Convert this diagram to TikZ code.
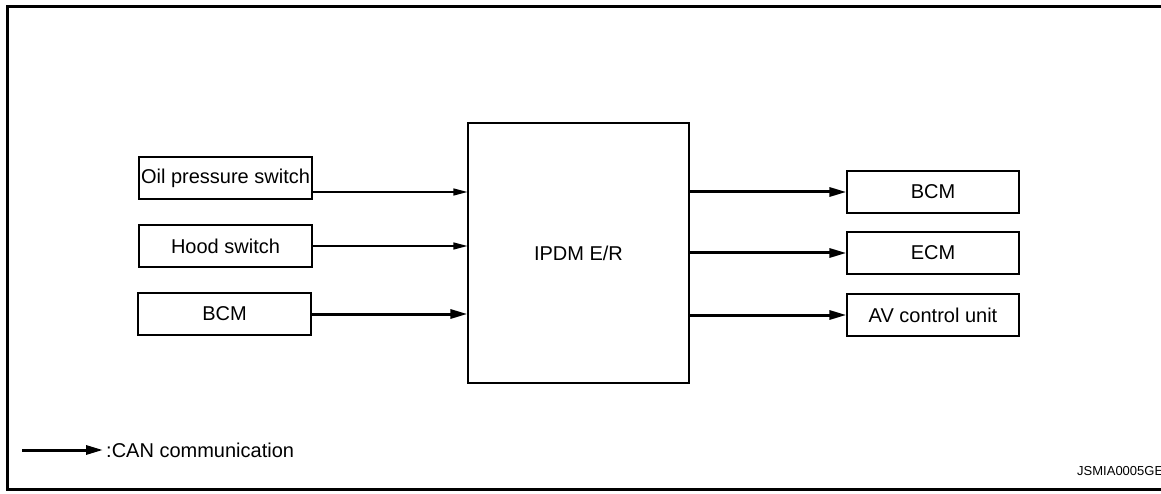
\documentclass[tikz,border=0pt]{standalone}
\usepackage{fontspec}
\setmainfont{Liberation Sans}
\usetikzlibrary{arrows.meta}
\tikzset{
  unitbox/.style={draw,line width=1.2pt,inner sep=0pt,minimum width=173,minimum height=42},
  sigline/.style={line width=1.2pt,-{Triangle[length=14pt,width=7pt]}},
  canline/.style={line width=3pt,-{Triangle[length=17pt,width=9pt]}}
}
\begin{document}
\begin{tikzpicture}[x=1pt,y=-1pt,font=\fontsize{20}{23}\selectfont]
        \useasboundingbox (0,0) rectangle (1161,494);
        \clip (0,0) rectangle (1161,494);
        % the outer frame
        \draw[line width=3pt] (7,7) rectangle (1180,489);
        % the control unit in the middle
        \node[draw,line width=1.2pt,minimum width=221,minimum height=260] (ipdm) at (578.5,253) {IPDM E/R};
        % inputs
        \node[unitbox] (oil) at (225.5,178) {Oil pressure switch};
        \node[unitbox] (hood) at (225.5,246) {Hood switch};
        \node[unitbox] (bcmin) at (224.5,314) {BCM};
        % outputs
        \node[unitbox,minimum width=172] (bcmout) at (933,192) {BCM};
        \node[unitbox,minimum width=172] (ecm) at (933,253) {ECM};
        \node[unitbox,minimum width=172] (av) at (933,315) {AV control unit};
        \draw[sigline] ([yshift=-14pt]oil.east) -- ([yshift=-14pt]oil.east -| ipdm.west);
        \draw[sigline] (hood.east) -- (hood.east -| ipdm.west);
        \draw[canline] (bcmin.east) -- (bcmin.east -| ipdm.west);
        \draw[canline] (bcmout.west -| ipdm.east) -- (bcmout.west);
        \draw[canline] (ecm.west -| ipdm.east) -- (ecm.west);
        \draw[canline] (av.west -| ipdm.east) -- (av.west);
        % the legend
        \coordinate (leg) at (22,450);
        \node[anchor=west,inner sep=0pt] (can) at (106,450) {:CAN communication};
        \draw[canline] (leg) -- ([xshift=-3pt]can.west);
        \node[anchor=base west,inner sep=0pt,font=\fontsize{13}{15}\selectfont] (code) at (1077,475) {JSMIA0005GE};
    \end{tikzpicture}
\end{document}
